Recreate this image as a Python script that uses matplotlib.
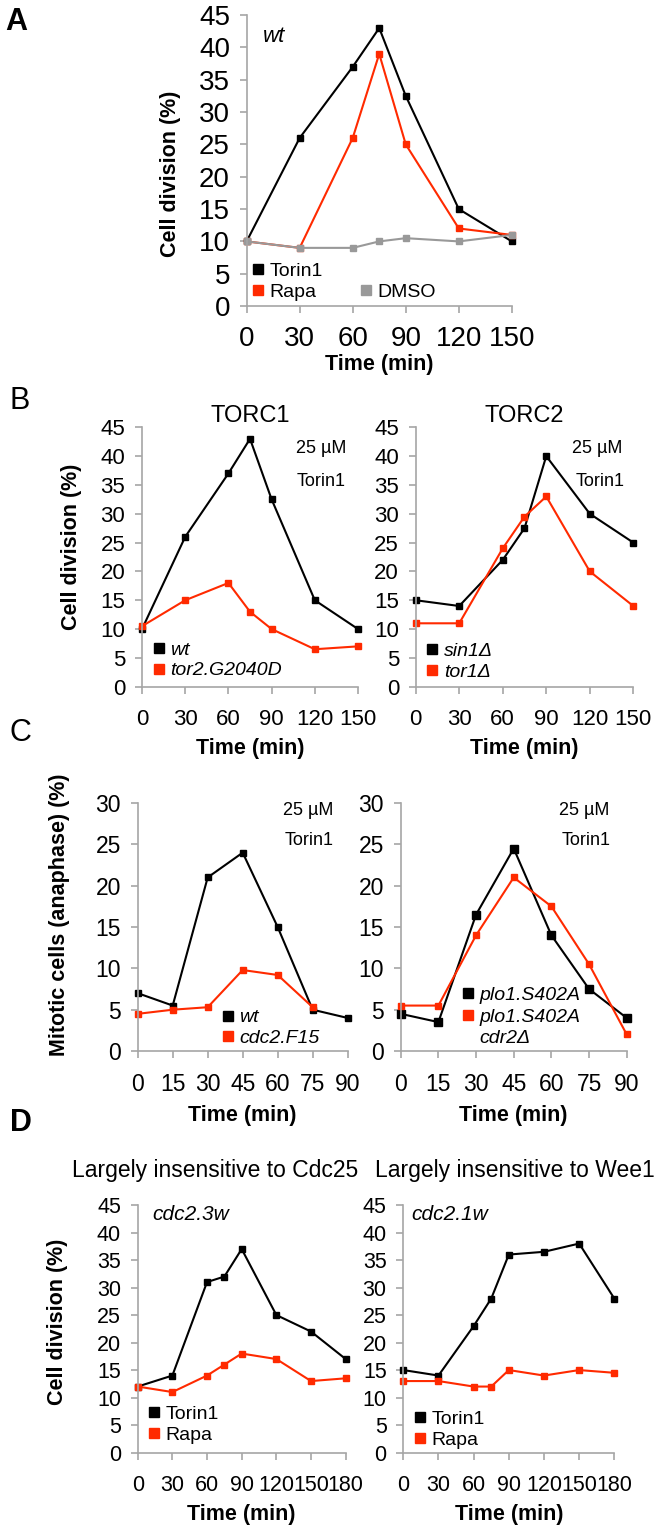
import numpy as np
import matplotlib
matplotlib.use("Agg")
import matplotlib.pyplot as plt
from matplotlib.lines import Line2D

plt.rcParams['font.family'] = ['Liberation Sans', 'DejaVu Sans']

RED = '#ff2a00'
GREY = '#999999'
AXC = '#a6a6a6'

# panel A
a_x = [0, 30, 60, 75, 90, 120, 150]
a_torin = [10, 26, 37, 43, 32.5, 15, 10]
a_rapa = [10, 9, 26, 39, 25, 12, 11]
a_dmso = [10, 9, 9, 10, 10.5, 10, 11]

# panel B
b_x = [0, 30, 60, 75, 90, 120, 150]
b1_wt = [10, 26, 37, 43, 32.5, 15, 10]
b1_tor2 = [10.5, 15, 18, 13, 10, 6.5, 7]
b2_sin1 = [15, 14, 22, 27.5, 40, 30, 25]
b2_tor1 = [11, 11, 24, 29.5, 33, 20, 14]

# panel C
c_x = [0, 15, 30, 45, 60, 75, 90]
c1_wt = [7, 5.5, 21, 24, 15, 5, 4]
c1_x_f15 = [0, 15, 30, 45, 60, 75]
c1_f15 = [4.5, 5, 5.3, 9.8, 9.2, 5.3]
c2_plo1 = [4.5, 3.5, 16.5, 24.5, 14, 7.5, 4]
c2_cdr2 = [5.5, 5.5, 14, 21, 17.5, 10.5, 2]

# panel D
d_x = [0, 30, 60, 75, 90, 120, 150, 180]
d1_torin = [12, 14, 31, 32, 37, 25, 22, 17]
d1_rapa = [12, 11, 14, 16, 18, 17, 13, 13.5]
d2_torin = [15, 14, 23, 28, 36, 36.5, 38, 28]
d2_rapa = [13, 13, 12, 12, 15, 14, 15, 14.5]

fig = plt.figure(figsize=(6.63, 15.25), dpi=100)


def setup(ax, xt, ymax, tsize, ylabel=None, ypos=None, lsize=15.5, xpad=11, lpad=6):
    ax.set_xlim(xt[0], xt[-1])
    ax.set_ylim(0, ymax)
    ax.set_xticks(xt)
    ax.set_yticks(np.arange(0, ymax + 1, 5))
    for s in ['top', 'right']:
        ax.spines[s].set_visible(False)
    for s in ['left', 'bottom']:
        ax.spines[s].set_color(AXC)
        ax.spines[s].set_linewidth(1.2)
    ax.tick_params(colors=AXC, labelcolor='black', labelsize=tsize, length=5, width=1.2)
    ax.tick_params(axis='x', pad=xpad)
    ax.tick_params(axis='y', pad=7)
    ax.set_xlabel('Time (min)', fontsize=lsize, fontweight='bold', labelpad=lpad)
    if ylabel:
        ax.set_ylabel(ylabel, fontsize=lsize, fontweight='bold')
        ax.yaxis.set_label_coords(*ypos)


def line(ax, x, y, c, ms=3.8):
    ax.plot(x, y, color=c, lw=1.5, marker='s', ms=ms, clip_on=False)


def leg(ax, labels, colors, anchor, italic=False, ncol=1, cs=1.0, ls=0.15):
    hs = []
    for c in colors:
        if c is None:
            hs.append(Line2D([], [], ls='none', marker=None))
        else:
            hs.append(Line2D([], [], ls='none', marker='s', ms=7, color=c))
    prop = {'size': 14}
    if italic:
        prop['style'] = 'italic'
    ax.legend(hs, labels, loc='upper left', bbox_to_anchor=anchor, frameon=False,
              prop=prop, handlelength=0.6, handletextpad=0.3, labelspacing=ls,
              borderaxespad=0, borderpad=0, ncol=ncol, columnspacing=cs)


# ---- A
ax = fig.add_axes([0.372, 0.7993, 0.400, 0.1908])
setup(ax, [0, 30, 60, 90, 120, 150], 45, 20, 'Cell division (%)', (-0.248, 0.455),
      xpad=9.5, lpad=1.5)
line(ax, a_x, a_torin, 'black')
line(ax, a_x, a_rapa, RED)
line(ax, a_x, a_dmso, GREY)
ax.text(0.06, 0.925, 'wt', transform=ax.transAxes, fontsize=16, style='italic', va='center')
leg(ax, ['Torin1', 'Rapa', '', 'DMSO'], ['black', RED, None, GREY], (0.02, 0.15), ncol=2, cs=1.9)
fig.text(0.008, 1 - 22 / 1525, 'A', fontsize=22, fontweight='bold', va='center')

# ---- B
ax = fig.add_axes([0.2142, 0.5497, 0.3258, 0.1701])
setup(ax, [0, 30, 60, 90, 120, 150], 45, 16, 'Cell division (%)', (-0.278, 0.54))
line(ax, b_x, b1_wt, 'black')
line(ax, b_x, b1_tor2, RED)
ax.set_title('TORC1', fontsize=17, pad=4)
ax.text(0.715, 0.92, '25 µM', transform=ax.transAxes, fontsize=13, va='center')
ax.text(0.715, 0.79, 'Torin1', transform=ax.transAxes, fontsize=13, va='center')
leg(ax, ['wt', 'tor2.G2040D'], ['black', RED], (0.05, 0.175), italic=True)
fig.text(0.015, 1 - 401 / 1525, 'B', fontsize=22, va='center')

ax = fig.add_axes([0.627, 0.5497, 0.3282, 0.1701])
setup(ax, [0, 30, 60, 90, 120, 150], 45, 16)
line(ax, b_x, b2_sin1, 'black')
line(ax, b_x, b2_tor1, RED)
ax.set_title('TORC2', fontsize=17, pad=4)
ax.text(0.72, 0.92, '25 µM', transform=ax.transAxes, fontsize=13, va='center')
ax.text(0.735, 0.79, 'Torin1', transform=ax.transAxes, fontsize=13, va='center')
leg(ax, ['sin1Δ', 'tor1Δ'], ['black', RED], (0.05, 0.17), italic=True)

# ---- C
ax = fig.add_axes([0.2077, 0.3108, 0.3167, 0.1626])
setup(ax, c_x, 30, 16.5, 'Mitotic cells (anaphase) (%)', (-0.322, 0.548))
line(ax, c_x, c1_wt, 'black')
line(ax, c1_x_f15, c1_f15, RED)
ax.text(0.69, 0.97, '25 µM', transform=ax.transAxes, fontsize=13, va='center')
ax.text(0.70, 0.85, 'Torin1', transform=ax.transAxes, fontsize=13, va='center')
leg(ax, ['wt', 'cdc2.F15'], ['black', RED], (0.40, 0.17), italic=True)
fig.text(0.015, 1 - 733 / 1525, 'C', fontsize=22, va='center')

ax = fig.add_axes([0.6044, 0.3108, 0.3409, 0.1626])
setup(ax, c_x, 30, 16.5)
line(ax, c_x, c2_plo1, 'black', ms=6)
line(ax, c_x, c2_cdr2, RED)
ax.text(0.70, 0.97, '25 µM', transform=ax.transAxes, fontsize=13, va='center')
ax.text(0.71, 0.85, 'Torin1', transform=ax.transAxes, fontsize=13, va='center')
leg(ax, ['plo1.S402A', 'plo1.S402A', 'cdr2Δ'], ['black', RED, None], (0.27, 0.26),
    italic=True, ls=0.2)
fig.text(0.015, 1 - 1123 / 1525, 'D', fontsize=22, fontweight='bold', va='center')

# ---- D
ax = fig.add_axes([0.2077, 0.0475, 0.3137, 0.1623])
setup(ax, [0, 30, 60, 90, 120, 150, 180], 45, 15.5, 'Cell division (%)', (-0.335, 0.53))
line(ax, d_x, d1_torin, 'black')
line(ax, d_x, d1_rapa, RED)
ax.text(0.07, 0.96, 'cdc2.3w', transform=ax.transAxes, fontsize=15, style='italic', va='center')
leg(ax, ['Torin1', 'Rapa'], ['black', RED], (0.05, 0.19))

ax = fig.add_axes([0.6083, 0.0475, 0.3183, 0.1623])
setup(ax, [0, 30, 60, 90, 120, 150, 180], 45, 15.5)
line(ax, d_x, d2_torin, 'black')
line(ax, d_x, d2_rapa, RED)
ax.text(0.04, 0.96, 'cdc2.1w', transform=ax.transAxes, fontsize=15, style='italic', va='center')
leg(ax, ['Torin1', 'Rapa'], ['black', RED], (0.05, 0.17))

fig.text(215 / 663, 1 - 1170 / 1525, 'Largely insensitive to Cdc25', fontsize=16.5,
         ha='center', va='center')
fig.text(515 / 663, 1 - 1170 / 1525, 'Largely insensitive to Wee1', fontsize=16.5,
         ha='center', va='center')

fig.savefig('out.png', dpi=100)
